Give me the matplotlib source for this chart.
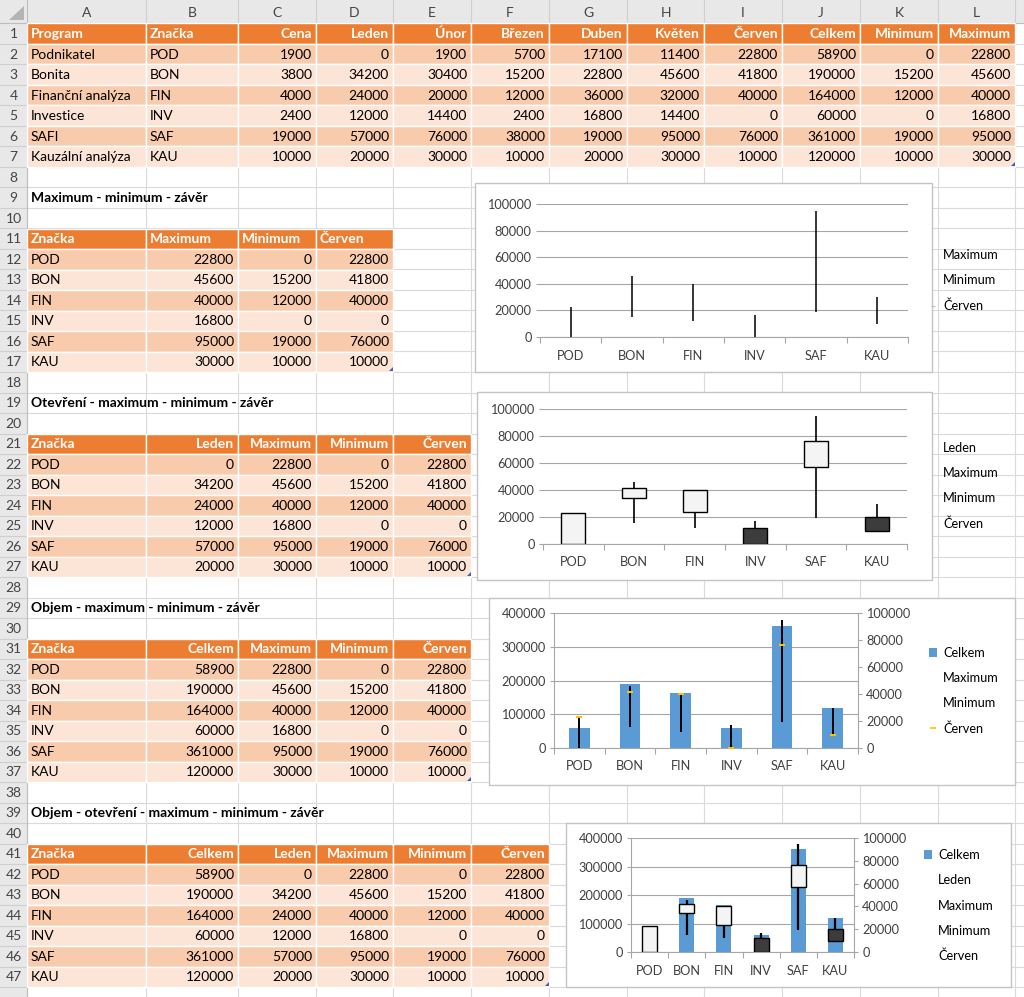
import matplotlib
matplotlib.use("Agg")
import matplotlib.pyplot as plt
from matplotlib.patches import Rectangle, Polygon, Patch
from matplotlib.lines import Line2D
import numpy as np

plt.rcParams['font.family'] = ['Lato', 'DejaVu Sans']

# --- data -------------------------------------------------------------
programs = ["Podnikatel", "Bonita", "Finanční analýza", "Investice", "SAFI", "Kauzální analýza"]
znacky = ["POD", "BON", "FIN", "INV", "SAF", "KAU"]
cena = [1900, 3800, 4000, 2400, 19000, 10000]
leden = [0, 34200, 24000, 12000, 57000, 20000]
unor = [1900, 30400, 20000, 14400, 76000, 30000]
brezen = [5700, 15200, 12000, 2400, 38000, 10000]
duben = [17100, 22800, 36000, 16800, 19000, 20000]
kveten = [11400, 45600, 32000, 14400, 95000, 30000]
cerven = [22800, 41800, 40000, 0, 76000, 10000]
celkem = [58900, 190000, 164000, 60000, 361000, 120000]
minimum = [0, 15200, 12000, 0, 19000, 10000]
maximum = [22800, 45600, 40000, 16800, 95000, 30000]

col_letters = list("ABCDEFGHIJKL")
titles = {9: "Maximum - minimum - závěr",
          19: "Otevření - maximum - minimum - závěr",
          29: "Objem - maximum - minimum - závěr",
          39: "Objem - otevření - maximum - minimum - závěr"}

# --- sheet geometry ---------------------------------------------------
W, H = 1024, 997
COL_EDGES = [27, 146, 238, 316, 393, 471, 549, 627, 704, 782, 860, 938, 1015, 1093]
ROW_TOP = 23.5
ROW_H = 20.5
N_ROWS = 47

ORANGE = '#ED7D31'
BAND1 = '#F8CBAD'
BAND2 = '#FCE4D6'
GRID = '#DADADA'
HEAD_BG = '#E8E8E8'
CELL_FS = 10
CHART_FS = 9.2
AX_GRAY = '#A6A6A6'
LBL = '#404040'
BLUE = '#5B9BD5'


def row_y(r):
    return ROW_TOP + (r - 1) * ROW_H


fig = plt.figure(figsize=(W / 100, H / 100), dpi=100)
bg = fig.add_axes([0, 0, 1, 1])
bg.set_xlim(0, W)
bg.set_ylim(H, 0)
bg.axis('off')

# gridlines
for x in COL_EDGES:
    bg.plot([x, x], [ROW_TOP, H], color=GRID, lw=0.8, zorder=1)
for r in range(1, N_ROWS + 3):
    bg.plot([COL_EDGES[0], W], [row_y(r), row_y(r)], color=GRID, lw=0.8, zorder=1)

# headers
bg.add_patch(Rectangle((0, 0), W, ROW_TOP, facecolor=HEAD_BG, edgecolor='none', zorder=2))
bg.add_patch(Rectangle((0, 0), COL_EDGES[0], H, facecolor=HEAD_BG, edgecolor='none', zorder=2))
bg.add_patch(Polygon([(9, 20.5), (24, 20.5), (24, 6)], closed=True, facecolor='#B4B4B4',
                     edgecolor='none', zorder=3))
for i in range(len(COL_EDGES) - 1):
    x0, x1 = COL_EDGES[i], COL_EDGES[i + 1]
    bg.plot([x1, x1], [0, ROW_TOP], color='#CFCFCF', lw=0.8, zorder=3)
    if i < len(col_letters):
        bg.text((x0 + x1) / 2, ROW_TOP / 2 + 1, col_letters[i], ha='center', va='center',
                fontsize=CELL_FS, color='#444444', zorder=4)
for r in range(1, N_ROWS + 2):
    yt = row_y(r)
    bg.plot([0, COL_EDGES[0]], [yt + ROW_H, yt + ROW_H], color='#CFCFCF', lw=0.8, zorder=3)
    if r <= N_ROWS:
        bg.text(COL_EDGES[0] / 2, yt + ROW_H / 2 + 0.5, str(r), ha='center', va='center',
                fontsize=CELL_FS, color='#444444', zorder=4)
bg.plot([0, W], [ROW_TOP, ROW_TOP], color='#BDBDBD', lw=0.8, zorder=3)
bg.plot([COL_EDGES[0], COL_EDGES[0]], [0, H], color='#BDBDBD', lw=0.8, zorder=3)


def cell_text(r, c, s, align, **kw):
    x0, x1 = COL_EDGES[c], COL_EDGES[c + 1]
    y = row_y(r) + ROW_H / 2 + 0.5
    if align == 'left':
        bg.text(x0 + 4, y, s, ha='left', va='center', fontsize=CELL_FS, zorder=6, **kw)
    else:
        bg.text(x1 - 4, y, s, ha='right', va='center', fontsize=CELL_FS, zorder=6, **kw)


def draw_table(first_row, columns, header_align=None):
    # columns: list of (header, values, is_text)
    n = len(columns[0][1])
    for c, (head, vals, is_text) in enumerate(columns):
        x0, x1 = COL_EDGES[c], COL_EDGES[c + 1]
        for k in range(n + 1):
            r = first_row + k
            face = ORANGE if k == 0 else (BAND1 if k % 2 == 1 else BAND2)
            bg.add_patch(Rectangle((x0, row_y(r)), x1 - x0, ROW_H, facecolor=face,
                                   edgecolor='white', lw=1.0, zorder=5))
        align = header_align or ('left' if is_text else 'right')
        cell_text(first_row, c, head, align, color='white', fontweight='bold')
        for k, v in enumerate(vals):
            cell_text(first_row + 1 + k, c, str(v), 'left' if is_text else 'right', color='black')
    xr = COL_EDGES[len(columns)]
    yb = row_y(first_row + n + 1)
    bg.add_patch(Polygon([(xr - 4, yb - 1), (xr, yb - 1), (xr, yb - 5)], closed=True,
                         facecolor='#3F5FBF', edgecolor='none', zorder=7))


draw_table(1, [("Program", programs, True), ("Značka", znacky, True), ("Cena", cena, False),
               ("Leden", leden, False), ("Únor", unor, False), ("Březen", brezen, False),
               ("Duben", duben, False), ("Květen", kveten, False), ("Červen", cerven, False),
               ("Celkem", celkem, False), ("Minimum", minimum, False), ("Maximum", maximum, False)])
draw_table(11, [("Značka", znacky, True), ("Maximum", maximum, False), ("Minimum", minimum, False),
                ("Červen", cerven, False)], header_align='left')
draw_table(21, [("Značka", znacky, True), ("Leden", leden, False), ("Maximum", maximum, False),
                ("Minimum", minimum, False), ("Červen", cerven, False)])
draw_table(31, [("Značka", znacky, True), ("Celkem", celkem, False), ("Maximum", maximum, False),
                ("Minimum", minimum, False), ("Červen", cerven, False)])
draw_table(41, [("Značka", znacky, True), ("Celkem", celkem, False), ("Leden", leden, False),
                ("Maximum", maximum, False), ("Minimum", minimum, False), ("Červen", cerven, False)])

for r, t in titles.items():
    cell_text(r, 0, t, 'left', color='black', fontweight='bold')


# --- charts -----------------------------------------------------------
def chart_frame(x0, y0, x1, y1):
    bg.add_patch(Rectangle((x0, y0), x1 - x0, y1 - y0, facecolor='white',
                           edgecolor='#C4C4C4', lw=1.0, zorder=8))


def px_axes(x0, y0, x1, y1):
    return fig.add_axes([x0 / W, 1 - y1 / H, (x1 - x0) / W, (y1 - y0) / H])


def style_axes(ax, ymax, step, left_spine=False):
    ax.set_facecolor('none')
    ax.set_xlim(-0.5, len(znacky) - 0.5)
    ax.set_ylim(0, ymax)
    ax.set_yticks(np.arange(0, ymax + 1, step))
    ax.set_yticklabels([str(int(v)) for v in np.arange(0, ymax + 1, step)])
    ax.set_xticks(np.arange(len(znacky)))
    ax.set_xticklabels(znacky)
    ax.set_xticks(np.arange(-0.5, len(znacky)), minor=True)
    ax.tick_params(axis='x', which='major', length=0, pad=9, labelsize=CHART_FS, labelcolor=LBL)
    ax.tick_params(axis='x', which='minor', length=4, color=AX_GRAY, width=0.8)
    ax.tick_params(axis='y', length=3, color=AX_GRAY, width=0.8, pad=3,
                   labelsize=CHART_FS, labelcolor=LBL)
    ax.yaxis.grid(True, color=AX_GRAY, lw=0.8)
    ax.set_axisbelow(True)
    for s in ['top', 'right']:
        ax.spines[s].set_visible(False)
    ax.spines['left'].set_visible(left_spine)
    ax.spines['left'].set_color(AX_GRAY)
    ax.spines['bottom'].set_color(AX_GRAY)
    ax.spines['bottom'].set_linewidth(0.8)


def right_axis(ax, ymax, step):
    ax2 = ax.twinx()
    ax2.set_ylim(0, ymax)
    ax2.set_yticks(np.arange(0, ymax + 1, step))
    ax2.set_yticklabels([str(int(v)) for v in np.arange(0, ymax + 1, step)])
    ax2.tick_params(axis='y', length=3, color=AX_GRAY, width=0.8, pad=3,
                    labelsize=CHART_FS, labelcolor=LBL)
    for s in ['top', 'left', 'bottom']:
        ax2.spines[s].set_visible(False)
    ax2.spines['right'].set_color(AX_GRAY)
    ax2.spines['right'].set_linewidth(0.8)
    return ax2


def candles(ax, x, o, h, l, c, width, wick_lw):
    o, h, l, c = map(np.asarray, (o, h, l, c))
    ax.vlines(x, l, h, color='black', lw=wick_lw, zorder=3)
    colors = ['#F4F4F4' if ci >= oi else '#3C3C3C' for oi, ci in zip(o, c)]
    ax.bar(x, np.abs(c - o), width, bottom=np.minimum(o, c), color=colors,
           edgecolor='black', lw=1.0, zorder=4)


def chart_legend(ax, handles, labels, text_x, first_y, spacing):
    fs_px = CHART_FS * 100 / 72
    hl, htp = 0.6, 0.5
    ls = (spacing - 0.965 * fs_px) / fs_px
    ax.legend(handles, labels, loc='upper left', frameon=False, fontsize=CHART_FS,
              handlelength=hl, handletextpad=htp, labelspacing=ls, borderpad=0,
              borderaxespad=0, labelcolor='black',
              bbox_to_anchor=(text_x - (hl + htp) * fs_px, first_y - 0.37 * fs_px),
              bbox_transform=bg.transData)


x = np.arange(len(znacky))
blank = Line2D([], [], ls='none')

# chart 1: maximum - minimum - zaver
chart_frame(475, 183, 932, 372)
ax1 = px_axes(540, 204, 908, 337)
style_axes(ax1, 100000, 20000)
ax1.vlines(x, minimum, maximum, color='black', lw=1.1, zorder=3)
chart_legend(ax1, [blank, blank, Line2D([], [], ls='none', marker='_', color='#BFBFBF', ms=3)],
             ["Maximum", "Minimum", "Červen"], 943, 254, 25.5)

# chart 2: otevreni - maximum - minimum - zaver
chart_frame(477, 392, 932, 580)
ax2 = px_axes(543, 409, 907, 544)
style_axes(ax2, 100000, 20000)
candles(ax2, x, leden, maximum, minimum, cerven, 0.4, 1.2)
chart_legend(ax2, [blank] * 4, ["Leden", "Maximum", "Minimum", "Červen"], 943, 447, 25.3)

# chart 3: objem - maximum - minimum - zaver
chart_frame(489, 598, 1015, 785)
ax3 = px_axes(554, 613, 858, 748)
style_axes(ax3, 400000, 100000, left_spine=True)
ax3.bar(x, celkem, 0.41, color=BLUE, zorder=2)
ax3b = right_axis(ax3, 100000, 20000)
ax3b.vlines(x, minimum, maximum, color='black', lw=1.4, zorder=3)
ax3b.plot(x, cerven, ls='none', marker='_', color='#FFC000', ms=5, mew=1.5, zorder=4)
chart_legend(ax3b, [Patch(facecolor=BLUE), blank, blank,
                    Line2D([], [], ls='none', marker='_', color='#FFC000', ms=4, mew=1.2)],
             ["Celkem", "Maximum", "Minimum", "Červen"], 943, 652, 25.3)

# chart 4: objem - otevreni - maximum - minimum - zaver
chart_frame(566, 823, 1011, 987)
ax4 = px_axes(631, 838, 854, 952)
style_axes(ax4, 400000, 100000, left_spine=True)
ax4.bar(x, celkem, 0.4, color=BLUE, zorder=2)
ax4b = right_axis(ax4, 100000, 20000)
candles(ax4b, x, leden, maximum, minimum, cerven, 0.4, 1.6)
chart_legend(ax4b, [Patch(facecolor=BLUE), blank, blank, blank, blank],
             ["Celkem", "Leden", "Maximum", "Minimum", "Červen"], 938, 854, 25.5)

fig.savefig("out.png", dpi=100)
